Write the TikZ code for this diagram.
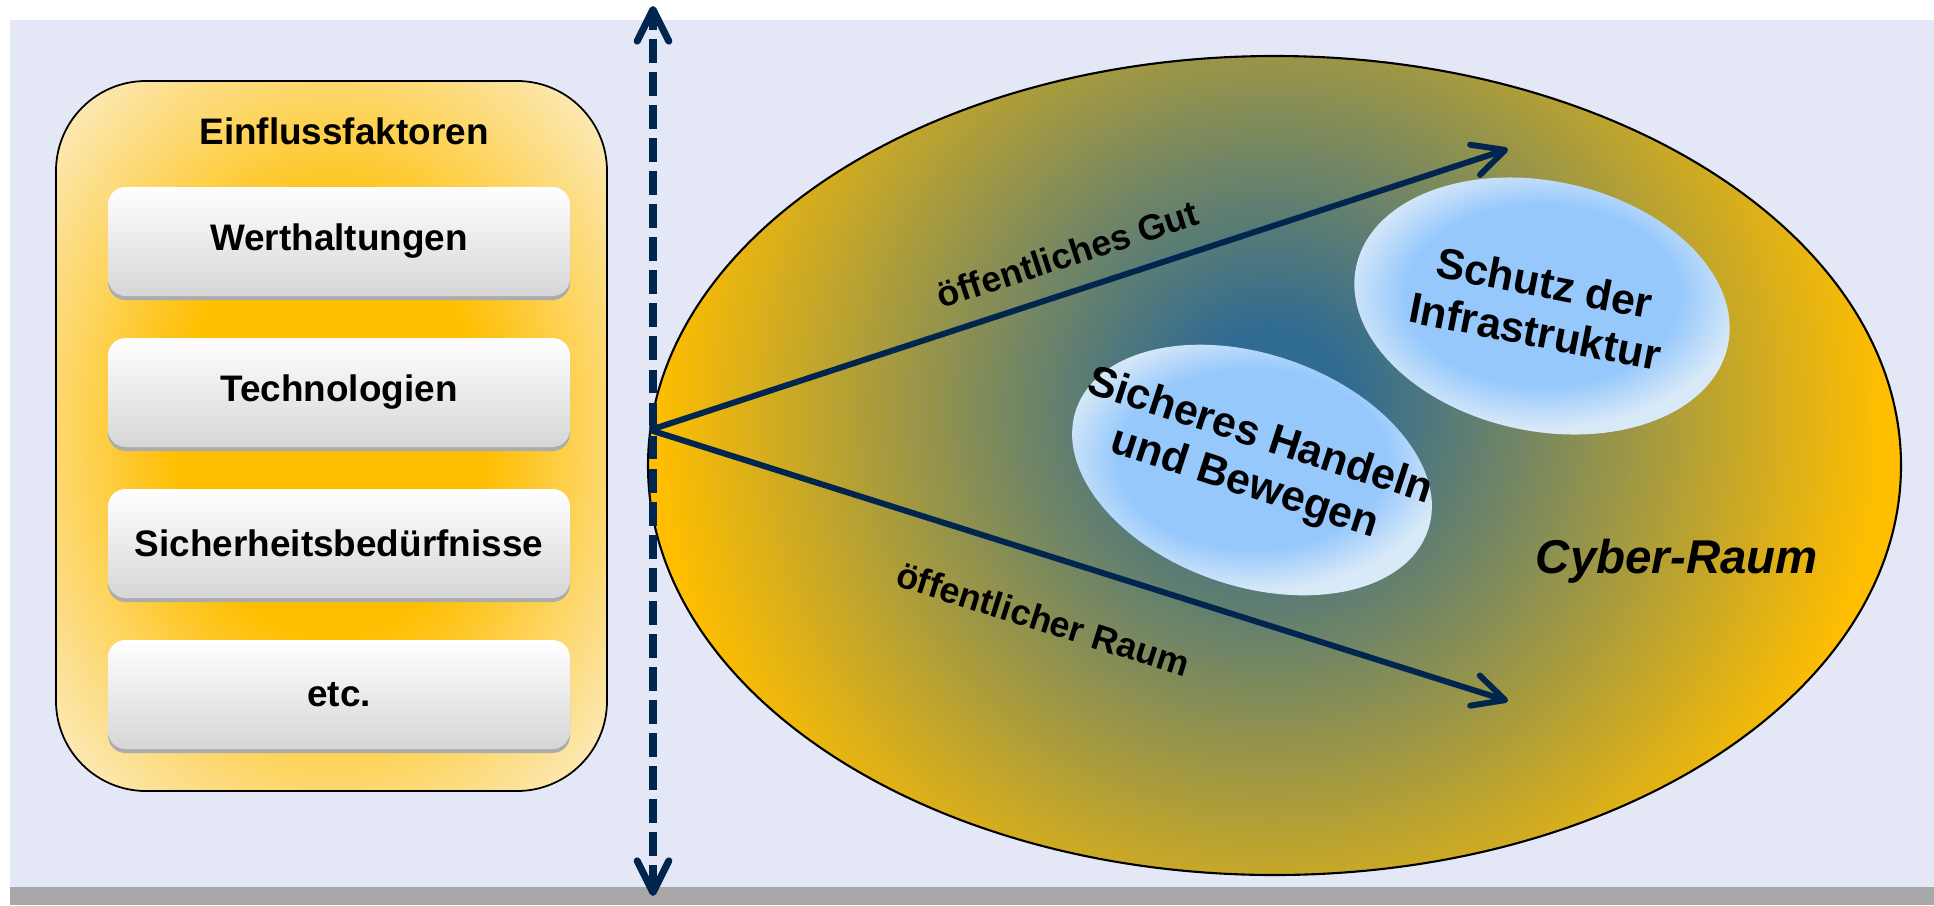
\documentclass[tikz,border=0pt]{standalone}
\usepackage{fontspec}
\setmainfont{Liberation Sans}
\usetikzlibrary{shapes.geometric, arrows.meta, shadows}

\definecolor{lavender}{HTML}{E4E7F5}
\definecolor{stripgray}{HTML}{A8A8A8}
\definecolor{navy}{HTML}{00264F}
\definecolor{amber}{HTML}{FFBE00}
\definecolor{paleamber}{HTML}{FBEDC8}
\definecolor{steel}{HTML}{2F6B93}
\definecolor{skyblue}{HTML}{96C8FC}
\definecolor{paleblue}{HTML}{D8E9F8}

\pgfdeclareradialshading{factorglow}{\pgfpoint{0bp}{0bp}}{color(0bp)=(amber); color(14bp)=(amber); color(25bp)=(amber!45!paleamber); color(35bp)=(paleamber); color(50bp)=(paleamber)}
\pgfdeclareradialshading{cyberglow}{\pgfpoint{0bp}{0bp}}{color(0bp)=(steel); color(3bp)=(steel); color(24bp)=(amber); color(50bp)=(amber)}
\pgfdeclareradialshading{skyglow}{\pgfpoint{0bp}{0bp}}{color(0bp)=(skyblue); color(17bp)=(skyblue); color(25bp)=(paleblue); color(50bp)=(paleblue)}

\begin{document}
\begin{tikzpicture}[
  factorbox/.style={rounded corners=5pt, minimum width=4.62cm, minimum height=1.09cm,
    top color=white, bottom color=gray!32, general shadow={fill=gray!65, shadow yshift=-0.04cm},
    font=\fontsize{10.5}{12}\selectfont\bfseries},
  goalblob/.style={ellipse, inner sep=0, shading=skyglow},
  goaltext/.style={align=center, font=\fontsize{12.2}{14}\selectfont\bfseries},
  flow/.style={navy, line width=1.7pt, -{Straight Barb[length=9pt, width=9pt, round]}},
]
\useasboundingbox (0,0) rectangle (19.34,9.05);
% Background
\fill[white] (0,0) rectangle (19.34,9.05);
\fill[lavender] (0.10,0.18) rectangle (19.34,8.85);
\fill[stripgray] (0.10,0) rectangle (19.34,0.18);
% Einflussfaktoren
\node[draw, line width=0.5pt, rounded corners=0.9cm, minimum width=5.51cm, minimum height=7.10cm, shading=factorglow] (panel) at (3.315,4.69) {};
\node[font=\fontsize{10.5}{12}\selectfont\bfseries] (title) at (3.44,7.74) {Einflussfaktoren};
\node[factorbox] (werte) at (3.39,6.635) {Werthaltungen};
\node[factorbox] (technik) at (3.39,5.125) {Technologien};
\node[factorbox] (bedarf) at (3.39,3.615) {Sicherheitsbedürfnisse};
\node[factorbox] (etc) at (3.39,2.105) {etc.};
% Cyber-Raum
\node[ellipse, draw, line width=0.6pt, inner sep=0, minimum width=12.53cm, minimum height=8.19cm,
  path picture={\shade[shading=cyberglow] (path picture bounding box.center) ++(-0.05,0.58) circle (6.4cm);}] (cyber) at (12.745,4.395) {};
\node[goalblob, rotate=-12, minimum width=3.80cm, minimum height=2.50cm] (schutz) at (15.42,5.99) {};
\node[goalblob, rotate=-19, minimum width=3.72cm, minimum height=2.32cm] (handeln) at (12.52,4.35) {};
\node[goaltext, rotate=-11] (schutztext) at (15.40,5.98) {Schutz der\\Infrastruktur};
\node[goaltext, rotate=-18] (handelntext) at (12.52,4.44) {Sicheres Handeln\\und Bewegen};
\node[font=\fontsize{13.5}{16}\selectfont\bfseries\itshape] (raumname) at (16.77,3.44) {Cyber-Raum};
% Arrows
\coordinate (origin) at (6.50,4.75);
\coordinate (guttip) at (15.08,7.56);
\coordinate (raumtip) at (15.08,2.04);
\draw[flow] (origin) -- node[sloped, above, pos=0.5, inner sep=6pt, text=black, font=\fontsize{10.2}{12}\selectfont\bfseries] (gutlabel) {öffentliches Gut} (guttip);
\draw[flow] (origin) -- node[sloped, below, pos=0.48, inner sep=13pt, text=black, font=\fontsize{10.2}{12}\selectfont\bfseries] (raumlabel) {öffentlicher Raum} (raumtip);
% Border line
\coordinate (sky) at (6.53,8.99);
\coordinate (ground) at (6.53,0.09);
\draw[navy, line width=2pt, dash pattern=on 6.8pt off 2.6pt, {Straight Barb[length=9pt, width=9pt, round]}-{Straight Barb[length=9pt, width=9pt, round]}] (ground) -- (sky);
\end{tikzpicture}
\end{document}
